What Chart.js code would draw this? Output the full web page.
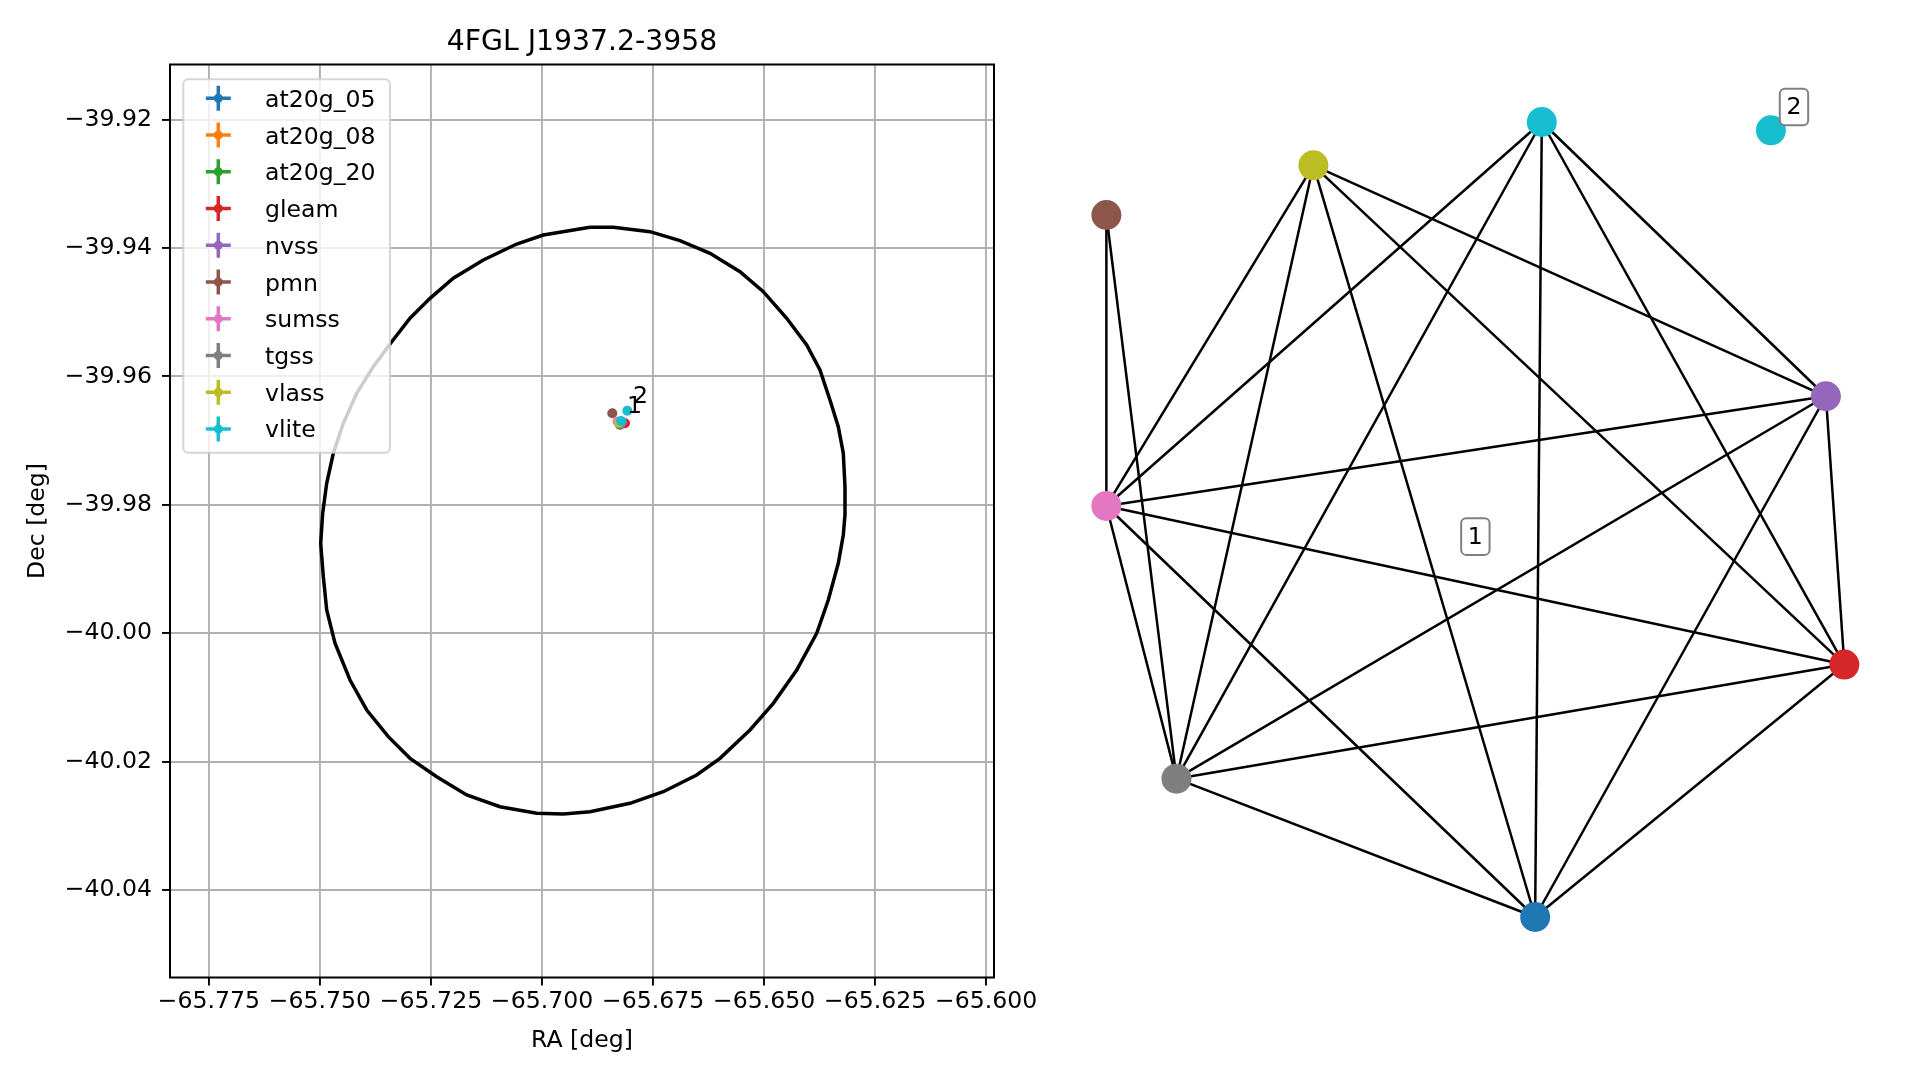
<!DOCTYPE html>
<html lang="en">
<head>
<meta charset="UTF-8">
<title>4FGL J1937.2-3958</title>
<script src="https://cdn.jsdelivr.net/npm/chart.js"></script>
<style>
  body { margin: 0; background: white; width: 1919px; height: 1080px; overflow: hidden; position: relative; }
  #skyWrap { position: absolute; left: 0; top: 0; }
  #graphWrap { position: absolute; left: 1060px; top: 0; }
</style>
</head>
<body>
<div id="skyWrap"><canvas id="skyChart" width="1060" height="1080"></canvas></div>
<div id="graphWrap"><canvas id="graphChart" width="859" height="1080"></canvas></div>
<script>
// catalogs and colours (legend order)
const catalogs = ['at20g_05', 'at20g_08', 'at20g_20', 'gleam', 'nvss', 'pmn', 'sumss', 'tgss', 'vlass', 'vlite'];
const catalogColors = ['#1f77b4', '#ff7f0e', '#2ca02c', '#d62728', '#9467bd', '#8c564b', '#e377c2', '#7f7f7f', '#bcbd22', '#17becf'];

// radio sources found (one entry per source)
const srcCatalog = ['at20g_05', 'gleam', 'nvss', 'pmn', 'sumss', 'tgss', 'vlass', 'vlite', 'vlite'];
const srcRa  = [-65.68210, -65.68132, -65.68199, -65.68418, -65.68300, -65.68244, -65.68267, -65.68222, -65.68080];
const srcDec = [-39.96718, -39.96731, -39.96710, -39.96575, -39.96703, -39.96757, -39.96721, -39.96695, -39.96534];

// group labels
const groupNames = ['1', '2'];
const groupRa  = [-65.68087, -65.67952];
const groupDec = [-39.96575, -39.96410];

// 4FGL error ellipse outline
const ellipseRa = [-65.68920, -65.68395, -65.67569, -65.66894, -65.66218, -65.65543, -65.65018, -65.64491, -65.64041, -65.63742,
  -65.63517, -65.63330, -65.63217, -65.63179, -65.63179, -65.63217, -65.63330, -65.63555, -65.63816, -65.64266,
  -65.64793, -65.65318, -65.65993, -65.66518, -65.67270, -65.68019, -65.68920, -65.69521, -65.70120, -65.70946,
  -65.71696, -65.72371, -65.72972, -65.73461, -65.73947, -65.74323, -65.74661, -65.74848, -65.74924, -65.74983,
  -65.74938, -65.74848, -65.74699, -65.74474, -65.74172, -65.73799, -65.73384, -65.72972, -65.72522, -65.71998,
  -65.71322, -65.70570, -65.69971];
const ellipseDec = [-39.93678, -39.93678, -39.93746, -39.93886, -39.94083, -39.94369, -39.94681, -39.95095, -39.95511, -39.95900,
  -39.96368, -39.96784, -39.97198, -39.97718, -39.98159, -39.98470, -39.98911, -39.99483, -40.00002, -40.00573,
  -40.01092, -40.01508, -40.01949, -40.02209, -40.02469, -40.02650, -40.02780, -40.02816, -40.02805, -40.02703,
  -40.02520, -40.02235, -40.01949, -40.01612, -40.01196, -40.00729, -40.00157, -39.99639, -39.99120, -39.98600,
  -39.98128, -39.97665, -39.97198, -39.96731, -39.96263, -39.95849, -39.95460, -39.95095, -39.94784, -39.94472,
  -39.94187, -39.93938, -39.93798];

// axis limits and ticks
const raMin = -65.78376, raMax = -65.59824;
const decMin = -40.05363, decMax = -39.91142;
const raTicks = [-65.775, -65.750, -65.725, -65.700, -65.675, -65.650, -65.625, -65.600];
const decTicks = [-40.04, -40.02, -40.00, -39.98, -39.96, -39.94, -39.92];

// match graph: node layout (same order as sources), edges, group label spots
const nodeX = [0.163, 1.001, 0.951, -0.999, -0.999, -0.809, -0.438, 0.181, 0.802];
const nodeY = [-1.000, -0.365, 0.310, 0.766, 0.034, -0.652, 0.891, 1.000, 0.979];
const edges = [[4, 3], [4, 6], [4, 7], [4, 2], [4, 1], [4, 5], [4, 0], [3, 5],
  [6, 5], [6, 0], [6, 2], [6, 1], [7, 5], [7, 0], [7, 2], [7, 1],
  [2, 5], [2, 0], [2, 1], [1, 5], [1, 0], [5, 0]];
const groupNodeX = [0.001, 0.8645];
const groupNodeY = [-0.043, 1.0377];
const graphXMin = -1.1247, graphXMax = 1.2033, graphYMin = -1.4101, graphYMax = 1.3069;

const FONT = 'DejaVu Sans';
Chart.defaults.font.family = FONT;
Chart.defaults.color = 'black';

function fmt(v, d) {
  return (v < 0 ? '\u2212' : '') + Math.abs(v).toFixed(d);
}
function colorOf(cat) {
  return catalogColors[catalogs.indexOf(cat)];
}
function roundRect(ctx, x, y, w, h, r) {
  ctx.beginPath();
  ctx.moveTo(x + r, y);
  ctx.arcTo(x + w, y, x + w, y + h, r);
  ctx.arcTo(x + w, y + h, x, y + h, r);
  ctx.arcTo(x, y + h, x, y, r);
  ctx.arcTo(x, y, x + w, y, r);
  ctx.closePath();
}

const skyDecor = {
  id: 'skyDecor',
  afterDatasetsDraw(chart) {
    const ctx = chart.ctx, xs = chart.scales.x, ys = chart.scales.y, a = chart.chartArea;
    ctx.save();
    // group numbers
    ctx.font = '23.6px ' + FONT;
    ctx.fillStyle = 'black';
    ctx.textAlign = 'left';
    ctx.textBaseline = 'alphabetic';
    groupNames.forEach((g, i) => ctx.fillText(g, xs.getPixelForValue(groupRa[i]), ys.getPixelForValue(groupDec[i])));
    // legend
    roundRect(ctx, 183.3, 79.3, 206.7, 373.4, 5);
    ctx.fillStyle = 'rgba(255,255,255,0.8)';
    ctx.fill();
    ctx.strokeStyle = 'rgba(204,204,204,0.8)';
    ctx.lineWidth = 2;
    ctx.stroke();
    catalogs.forEach((cat, i) => {
      const cy = 98.3 + i * 36.74, cx = 218.3;
      ctx.strokeStyle = catalogColors[i];
      ctx.fillStyle = catalogColors[i];
      ctx.lineWidth = 3.5;
      ctx.beginPath();
      ctx.moveTo(cx - 12.5, cy); ctx.lineTo(cx + 12.5, cy);
      ctx.moveTo(cx, cy - 12.5); ctx.lineTo(cx, cy + 12.5);
      ctx.stroke();
      ctx.beginPath();
      ctx.arc(cx, cy, 4.5, 0, Math.PI * 2);
      ctx.fill();
      ctx.fillStyle = 'black';
      ctx.fillText(cat, 265, cy + 8.5);
    });
    // frame
    ctx.strokeStyle = 'black';
    ctx.lineWidth = 2;
    ctx.strokeRect(a.left, a.top, a.right - a.left, a.bottom - a.top);
    // titles
    ctx.textAlign = 'center';
    ctx.font = '28.3px ' + FONT;
    ctx.fillText('4FGL J1937.2-3958', (a.left + a.right) / 2, 50);
    ctx.font = '23.6px ' + FONT;
    ctx.fillText('RA [deg]', (a.left + a.right) / 2, 1046.5);
    ctx.translate(44, (a.top + a.bottom) / 2);
    ctx.rotate(-Math.PI / 2);
    ctx.fillText('Dec [deg]', 0, 0);
    ctx.restore();
  }
};

const skyDatasets = catalogs.map((cat, i) => ({
  label: cat,
  data: srcRa.map((ra, k) => ({ x: ra, y: srcDec[k], cat: srcCatalog[k] })).filter(p => p.cat === cat),
  backgroundColor: catalogColors[i],
  borderColor: catalogColors[i],
  pointRadius: 5,
  pointHoverRadius: 5,
  pointBorderWidth: 0,
  showLine: false,
  order: catalogs.length - i
}));
skyDatasets.push({
  label: 'ellipse',
  data: ellipseRa.concat(ellipseRa[0]).map((ra, k) => ({ x: ra, y: ellipseDec.concat(ellipseDec[0])[k] })),
  showLine: true,
  borderColor: 'black',
  borderWidth: 3.5,
  pointRadius: 0,
  tension: 0,
  fill: false,
  order: 20
});

const gridOpts = { color: '#b0b0b0', lineWidth: 1.9, tickLength: 8, tickColor: 'black', tickWidth: 1.9, drawTicks: true };

new Chart(document.getElementById('skyChart'), {
  type: 'scatter',
  data: { datasets: skyDatasets },
  options: {
    responsive: false,
    animation: false,
    layout: { autoPadding: false, padding: { top: 64.5, right: 66, left: 0, bottom: 0 } },
    plugins: { legend: { display: false }, tooltip: { enabled: false } },
    scales: {
      x: {
        type: 'linear', min: raMin, max: raMax,
        afterBuildTicks: ax => { ax.ticks = raTicks.map(v => ({ value: v })); },
        afterFit: ax => { ax.height = 102.5; },
        ticks: { callback: v => fmt(v, 3), font: { size: 23.6 }, color: 'black', padding: 2, maxRotation: 0, autoSkip: false },
        grid: gridOpts,
        border: { display: false }
      },
      y: {
        type: 'linear', min: decMin, max: decMax,
        afterBuildTicks: ax => { ax.ticks = decTicks.map(v => ({ value: v })); },
        afterFit: ax => { ax.width = 170; },
        ticks: { callback: v => fmt(v, 2), font: { size: 23.6 }, color: 'black', padding: 10, autoSkip: false },
        grid: gridOpts,
        border: { display: false }
      }
    }
  },
  plugins: [skyDecor]
});

const graphDecor = {
  id: 'graphDecor',
  afterDatasetsDraw(chart) {
    const ctx = chart.ctx, xs = chart.scales.x, ys = chart.scales.y;
    ctx.save();
    ctx.font = '23.6px ' + FONT;
    ctx.textAlign = 'center';
    ctx.textBaseline = 'middle';
    groupNames.forEach((g, i) => {
      const px = xs.getPixelForValue(groupNodeX[i]), py = ys.getPixelForValue(groupNodeY[i]);
      roundRect(ctx, px - 14.2, py - 18.3, 28.4, 36.6, 5);
      ctx.fillStyle = 'white';
      ctx.fill();
      ctx.strokeStyle = '#808080';
      ctx.lineWidth = 2;
      ctx.stroke();
      ctx.fillStyle = 'black';
      ctx.fillText(g, px, py + 1);
    });
    ctx.restore();
  }
};

const graphDatasets = [{
  label: 'nodes',
  data: nodeX.map((x, k) => ({ x: x, y: nodeY[k] })),
  backgroundColor: srcCatalog.map(colorOf),
  pointRadius: 15,
  pointHoverRadius: 15,
  pointBorderWidth: 0,
  showLine: false,
  clip: false,
  order: 1
}].concat(edges.map(([a, b]) => ({
  label: 'edge',
  data: [{ x: nodeX[a], y: nodeY[a] }, { x: nodeX[b], y: nodeY[b] }],
  showLine: true,
  borderColor: 'black',
  borderWidth: 2.5,
  pointRadius: 0,
  clip: false,
  order: 2
})));

new Chart(document.getElementById('graphChart'), {
  type: 'scatter',
  data: { datasets: graphDatasets },
  options: {
    responsive: false,
    animation: false,
    layout: { autoPadding: false, padding: 0 },
    plugins: { legend: { display: false }, tooltip: { enabled: false } },
    scales: {
      x: { type: 'linear', display: false, min: graphXMin, max: graphXMax },
      y: { type: 'linear', display: false, min: graphYMin, max: graphYMax }
    }
  },
  plugins: [graphDecor]
});
</script>
</body>
</html>
